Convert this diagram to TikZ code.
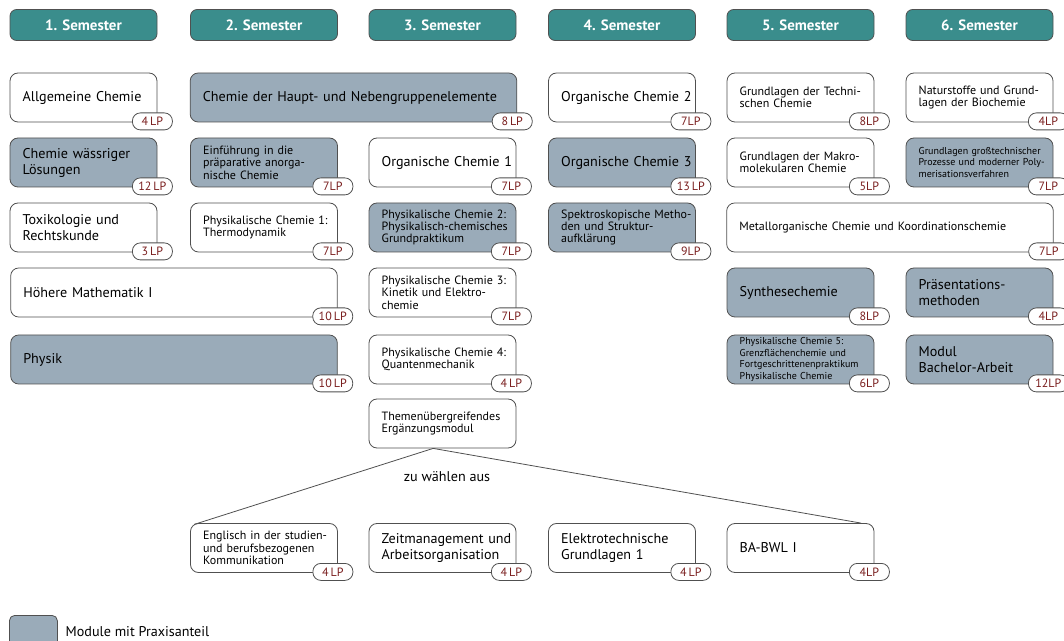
\documentclass[tikz,border=0pt]{standalone}
\usepackage{fontspec}
\setmainfont{PT Sans}

\definecolor{semteal}{HTML}{3A8D8C}
\definecolor{praxisgrau}{HTML}{9AABB9}
\definecolor{rahmen}{HTML}{505050}
\definecolor{lprot}{HTML}{7A1E1E}

\tikzset{
  semester/.style={draw=rahmen, fill=semteal, rounded corners=5pt, line width=0.6pt,
    minimum width=110.25pt, minimum height=23.25pt, text=white,
    font=\fontsize{11.2}{12}\selectfont\bfseries},
  modul/.style={draw=rahmen, fill=white, rounded corners=6pt, line width=0.6pt,
    minimum height=36.75pt, inner xsep=2.5pt, inner ysep=1pt,
    text width=105.25pt, align=left,
    execute at begin node={\leftskip=7pt}},
  breit/.style={text width=240pt},
  praxisbox/.style={fill=praxisgrau},
  gross/.style={font=\fontsize{10.6}{12}\selectfont},
  mittel/.style={font=\fontsize{9}{9.3}\selectfont},
  klein/.style={font=\fontsize{7.5}{8.7}\selectfont},
  lp/.style={draw=rahmen, fill=white, rounded corners=6pt, line width=0.6pt,
    minimum width=30pt, minimum height=12.75pt, inner sep=0pt,
    text=lprot, font=\fontsize{9}{9}\selectfont},
  verbinder/.style={draw=rahmen, line width=0.6pt},
}

\begin{document}
\begin{tikzpicture}[x=0.75pt, y=-0.75pt]

\useasboundingbox (0,0) rectangle (1064,641);

% Semester
\node[semester] (sem1) at (83.5,25) {1. Semester};
\node[semester] (sem2) at (264,25) {2. Semester};
\node[semester] (sem3) at (442.5,25) {3. Semester};
\node[semester] (sem4) at (622,25) {4. Semester};
\node[semester] (sem5) at (800.5,25) {5. Semester};
\node[semester] (sem6) at (979.5,25) {6. Semester};

% 1. Semester
\node[modul, gross] (allg) at (83.5,97.5) {Allgemeine Chemie};
\node[lp] (allg-lp) at ([shift={(-3.75pt,0.75pt)}]allg.south east) {4\,LP};
\node[modul, praxisbox, gross] (waess) at (83.5,162.5) {Chemie wässriger\\Lösungen};
\node[lp] (waess-lp) at ([shift={(-3.75pt,0.75pt)}]waess.south east) {12\,LP};
\node[modul, gross] (tox) at (83.5,227.5) {Toxikologie und\\Rechtskunde};
\node[lp] (tox-lp) at ([shift={(-3.75pt,0.75pt)}]tox.south east) {3\,LP};
\node[modul, breit, gross] (hoemath) at (174,292.5) {Höhere Mathematik I};
\node[lp] (hoemath-lp) at ([shift={(-3.75pt,0.75pt)}]hoemath.south east) {10\,LP};
\node[modul, breit, praxisbox, gross] (physik) at (174,359.5) {Physik};
\node[lp] (physik-lp) at ([shift={(-3.75pt,0.75pt)}]physik.south east) {10\,LP};

% 2. Semester
\node[modul, breit, praxisbox, gross] (haupt) at (353.5,97.5) {Chemie der Haupt- und Nebengruppenelemente};
\node[lp] (haupt-lp) at ([shift={(-3.75pt,0.75pt)}]haupt.south east) {8\,LP};
\node[modul, praxisbox, mittel] (einf) at (264,162.5) {Einführung in die\\präparative anorga-\\nische Chemie};
\node[lp] (einf-lp) at ([shift={(-3.75pt,0.75pt)}]einf.south east) {7LP};
\node[modul, mittel] (pc1) at (264,227.5) {Physikalische Chemie 1:\\Thermodynamik};
\node[lp] (pc1-lp) at ([shift={(-3.75pt,0.75pt)}]pc1.south east) {7LP};

% 3. Semester
\node[modul, gross] (oc1) at (442.5,162.5) {Organische Chemie 1};
\node[lp] (oc1-lp) at ([shift={(-3.75pt,0.75pt)}]oc1.south east) {7LP};
\node[modul, praxisbox, mittel] (pc2) at (442.5,227.5) {Physikalische Chemie 2:\\Physikalisch-chemisches\\Grundpraktikum};
\node[lp] (pc2-lp) at ([shift={(-3.75pt,0.75pt)}]pc2.south east) {7LP};
\node[modul, mittel] (pc3) at (442.5,292.5) {Physikalische Chemie 3:\\Kinetik und Elektro-\\chemie};
\node[lp] (pc3-lp) at ([shift={(-3.75pt,0.75pt)}]pc3.south east) {7LP};
\node[modul, mittel] (pc4) at (442.5,359.5) {Physikalische Chemie 4:\\Quantenmechanik};
\node[lp] (pc4-lp) at ([shift={(-3.75pt,0.75pt)}]pc4.south east) {4\,LP};
\node[modul, mittel] (themen) at (442.5,423.5) {Themenübergreifendes\\Ergänzungsmodul};

% 4. Semester
\node[modul, gross] (oc2) at (622,97.5) {Organische Chemie 2};
\node[lp] (oc2-lp) at ([shift={(-3.75pt,0.75pt)}]oc2.south east) {7LP};
\node[modul, praxisbox, gross] (oc3) at (622,162.5) {Organische Chemie 3};
\node[lp] (oc3-lp) at ([shift={(-3.75pt,0.75pt)}]oc3.south east) {13\,LP};
\node[modul, praxisbox, mittel] (spektro) at (622,227.5) {Spektroskopische Metho-\\den und Struktur-\\aufklärung};
\node[lp] (spektro-lp) at ([shift={(-3.75pt,0.75pt)}]spektro.south east) {9LP};

% 5. Semester
\node[modul, mittel] (techn) at (800.5,97.5) {Grundlagen der Techni-\\schen Chemie};
\node[lp] (techn-lp) at ([shift={(-3.75pt,0.75pt)}]techn.south east) {8LP};
\node[modul, mittel] (makro) at (800.5,162.5) {Grundlagen der Makro-\\molekularen Chemie};
\node[lp] (makro-lp) at ([shift={(-3.75pt,0.75pt)}]makro.south east) {5LP};
\node[modul, breit, mittel] (metall) at (890,227.5) {Metallorganische Chemie und Koordinationschemie};
\node[lp] (metall-lp) at ([shift={(-3.75pt,0.75pt)}]metall.south east) {7LP};
\node[modul, praxisbox, gross] (synth) at (800.5,292.5) {Synthesechemie};
\node[lp] (synth-lp) at ([shift={(-3.75pt,0.75pt)}]synth.south east) {8LP};
\node[modul, praxisbox, klein] (pc5) at (800.5,359.5) {Physikalische Chemie 5:\\Grenzflächenchemie und\\Fortgeschrittenenpraktikum\\Physikalische Chemie};
\node[lp] (pc5-lp) at ([shift={(-3.75pt,0.75pt)}]pc5.south east) {6LP};

% 6. Semester
\node[modul, mittel] (natur) at (979.5,97.5) {Naturstoffe und Grund-\\lagen der Biochemie};
\node[lp] (natur-lp) at ([shift={(-3.75pt,0.75pt)}]natur.south east) {4LP};
\node[modul, praxisbox, klein] (grosstech) at (979.5,162.5) {Grundlagen großtechnischer\\Prozesse und moderner Poly-\\merisationsverfahren};
\node[lp] (grosstech-lp) at ([shift={(-3.75pt,0.75pt)}]grosstech.south east) {7LP};
\node[modul, praxisbox, gross] (praes) at (979.5,292.5) {Präsentations-\\methoden};
\node[lp] (praes-lp) at ([shift={(-3.75pt,0.75pt)}]praes.south east) {4LP};
\node[modul, praxisbox, gross] (bachelor) at (979.5,359.5) {Modul\\Bachelor-Arbeit};
\node[lp] (bachelor-lp) at ([shift={(-3.75pt,0.75pt)}]bachelor.south east) {12LP};

% Wahlmodule
\node[gross] (wahl) at (447,477) {zu wählen aus};
\node[modul, mittel] (engl) at (264,548) {Englisch in der studien-\\und berufsbezogenen\\Kommunikation};
\node[lp] (engl-lp) at ([shift={(-3.75pt,0.75pt)}]engl.south east) {4\,LP};
\node[modul, gross] (zeit) at (442.5,548) {Zeitmanagement und\\Arbeitsorganisation};
\node[lp] (zeit-lp) at ([shift={(-3.75pt,0.75pt)}]zeit.south east) {4\,LP};
\node[modul, gross] (elektro) at (622,548) {Elektrotechnische\\Grundlagen 1};
\node[lp] (elektro-lp) at ([shift={(-3.75pt,0.75pt)}]elektro.south east) {4\,LP};
\node[modul, gross] (bwl) at (800.5,548) {BA-BWL I};
\node[lp] (bwl-lp) at ([shift={(-3.75pt,0.75pt)}]bwl.south east) {4LP};

\draw[verbinder] ([xshift=-7pt]themen.south) -- ([shift={(3pt,-1pt)}]engl.north west);
\draw[verbinder] ([xshift=-7pt]themen.south) -- ([xshift=-10pt]bwl.north east);

% Legende
\node[draw=rahmen, fill=praxisgrau, rounded corners=4pt, line width=0.6pt,
  minimum size=36pt, anchor=north west] (legende) at (9,615) {};
\node[gross, anchor=west] (legtext) at (61,632) {Module mit Praxisanteil};

\end{tikzpicture}
\end{document}
